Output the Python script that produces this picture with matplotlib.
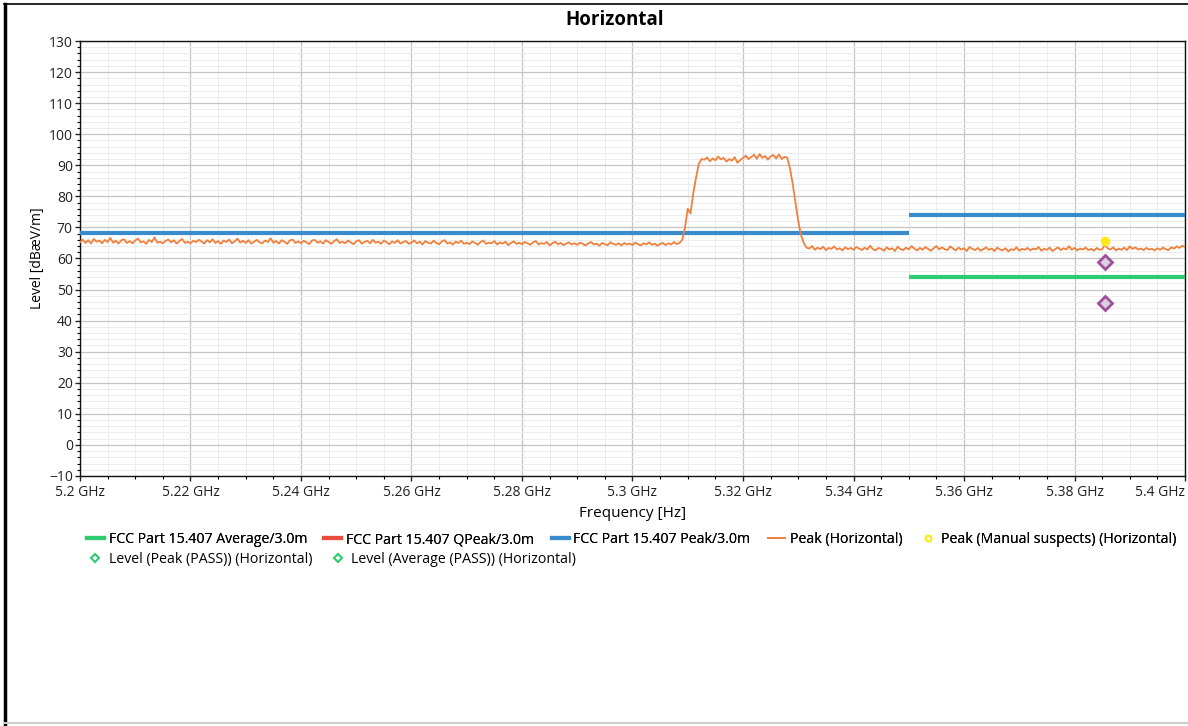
import matplotlib.pyplot as plt
import matplotlib.ticker as mticker
from matplotlib.lines import Line2D
import numpy as np

plt.rcParams['font.family'] = ['Open Sans', 'DejaVu Sans']

# peak trace, one value every 0.5 MHz from 5.200 to 5.400 GHz
freq_start, freq_step = 5.200, 0.0005
peak_level = [
    # 5.2000 - 5.3085 GHz
    65.2, 66.1, 65.0, 65.9, 64.8, 66.3, 65.4, 65.8, 64.9, 66.0, 65.3, 66.6, 65.1, 65.7, 64.8, 65.9, 66.2, 65.0, 65.6, 64.9,
    65.8, 66.4, 65.2, 65.5, 64.7, 66.0, 65.3, 66.8, 65.1, 65.4, 64.9, 65.7, 66.1, 65.2, 65.9, 64.8, 65.6, 66.3, 65.0, 65.4,
    64.9, 65.7, 65.3, 66.0, 65.5, 64.8, 65.9, 65.2, 66.2, 65.0, 65.6, 64.7, 65.8, 65.3, 66.1, 64.9, 65.5, 66.4, 65.1, 65.7,
    65.0, 65.9, 64.8, 65.4, 66.0, 65.2, 64.9, 65.8, 65.3, 66.5, 65.1, 65.6, 64.8, 65.9, 65.4, 64.7, 65.8, 66.1, 65.0, 65.5,
    64.9, 65.7, 65.2, 64.6, 65.8, 66.0, 65.1, 65.5, 64.8, 65.9, 65.3, 64.7, 65.6, 66.2, 65.0, 65.4, 64.9, 65.8, 65.2, 64.6,
    65.5, 65.9, 64.8, 65.3, 65.7, 64.9, 66.0, 65.1, 65.4, 64.7, 65.8, 65.2, 64.6, 65.5, 65.0, 65.9, 64.8, 65.3, 65.6, 64.7,
    65.2, 65.8, 64.9, 65.4, 64.5, 65.6, 65.1, 64.8, 65.7, 65.0, 64.6, 65.5, 65.9, 64.8, 65.2, 64.5, 65.4, 65.0, 65.7, 64.7,
    65.1, 64.6, 65.5, 65.0, 64.4, 65.3, 65.8, 64.7, 65.1, 64.9, 65.6, 64.5, 65.2, 64.8, 65.4, 64.3, 65.0, 65.5, 64.7, 65.1,
    64.6, 65.3, 64.9, 64.4, 65.2, 65.6, 64.5, 65.0, 64.7, 65.3, 64.2, 64.9, 65.4, 64.6, 65.0, 64.3, 64.8, 65.2, 64.5, 64.9,
    64.4, 65.1, 64.7, 64.2, 64.9, 65.3, 64.5, 64.8, 64.1, 65.0, 64.6, 64.3, 65.2, 64.7, 64.4, 64.9, 64.2, 65.0, 64.5, 64.8,
    64.3, 65.1, 64.6, 64.2, 64.9, 64.5, 65.2, 64.4, 64.8, 64.1, 64.7, 65.0, 64.3, 64.9, 64.5, 65.3, 64.6, 65.0,
    # rising edge 5.3090 - 5.3125 GHz
    66.0, 70.0, 76.0, 74.5, 81.0, 86.0, 90.5, 92.0,
    # top of the channel 5.3130 - 5.3275 GHz
    91.8, 92.5, 91.3, 92.2, 91.6, 92.8, 91.9, 92.4, 91.2, 92.0, 91.5, 92.6, 90.8, 91.7, 92.3, 93.1, 92.0, 92.7, 93.4, 92.1,
    93.6, 92.4, 93.0, 91.8, 92.9, 93.3, 92.2, 93.5, 92.0, 92.7,
    # falling edge 5.3280 - 5.3315 GHz
    92.5, 89.0, 84.0, 78.0, 72.0, 67.5, 65.0, 63.5,
    # 5.3320 - 5.4000 GHz
    63.2, 64.0, 62.8, 63.5, 63.0, 63.8, 62.7, 63.4, 63.1, 63.9, 62.9, 63.3, 62.6, 63.6, 63.0, 63.4, 62.8, 63.7, 63.2, 62.7,
    63.5, 62.9, 64.1, 63.0, 62.6, 63.4, 63.1, 62.5, 63.6, 62.9, 63.3, 62.4, 63.8, 63.0, 62.7, 63.5, 62.9, 64.0, 63.2, 62.6,
    63.4, 62.8, 63.7, 63.1, 62.5, 63.3, 64.0, 62.9, 63.6, 63.0, 62.7, 63.9, 63.2, 62.6, 63.5, 62.9, 63.3, 62.4, 63.7, 63.1,
    62.7, 63.4, 62.5, 63.0, 63.6, 62.8, 63.2, 62.4, 63.5, 62.9, 62.6, 63.3, 62.3, 63.0, 62.7, 63.6, 62.5, 63.1, 62.8, 63.4,
    62.6, 63.2, 62.9, 63.7, 62.5, 63.1, 62.8, 63.5, 62.4, 63.0, 63.6, 62.7, 63.3, 62.9, 64.0, 62.8, 63.4, 62.6, 63.2, 62.9,
    63.5, 62.7, 63.1, 62.5, 63.4, 62.8, 63.0, 64.3, 63.3, 62.9, 63.6, 62.6, 63.2, 62.8, 63.5, 62.7, 63.9, 63.1, 63.6, 62.9,
    63.2, 62.7, 63.4, 62.9, 63.1, 62.6, 63.3, 62.8, 63.5, 63.0, 62.7, 63.6, 63.2, 63.9, 63.4, 64.1, 63.7,
]

# limit lines (GHz, dBuV/m)
peak_limit_f = [[5.20, 5.35], [5.35, 5.40]]
peak_limit_v = [68.2, 74.0]
avg_limit_f = [5.35, 5.40]
avg_limit_v = 54.0

# suspects / final measurements
suspect_f, suspect_v = 5.3855, 65.6
final_peak_f, final_peak_v = 5.3855, 58.8
final_avg_f, final_avg_v = 5.3855, 45.6

x_ticks = [5.20, 5.22, 5.24, 5.26, 5.28, 5.30, 5.32, 5.34, 5.36, 5.38, 5.40]
x_tick_labels = ['5.2 GHz', '5.22 GHz', '5.24 GHz', '5.26 GHz', '5.28 GHz', '5.3 GHz',
                 '5.32 GHz', '5.34 GHz', '5.36 GHz', '5.38 GHz', '5.4 GHz']

c_orange = '#f0803c'
c_blue = '#3a8bcb'
c_green = '#2ecc71'
c_red = '#e74c3c'
c_yellow = '#ffe81a'
c_purple = '#a04f9c'

fig = plt.figure(figsize=(11.88, 7.26), dpi=100)
ax = fig.add_axes([0.0673, 0.3444, 0.9302, 0.5991])

freq = freq_start + freq_step * np.arange(len(peak_level))

for fs, v in zip(peak_limit_f, peak_limit_v):
    ax.plot(fs, [v, v], color=c_blue, lw=3, solid_capstyle='butt', zorder=3)
ax.plot(avg_limit_f, [avg_limit_v, avg_limit_v], color=c_green, lw=3, solid_capstyle='butt', zorder=3)
ax.plot(freq, peak_level, color=c_orange, lw=1.3, zorder=4)
ax.plot([suspect_f], [suspect_v], 'o', color=c_yellow, ms=6, zorder=5)
ax.plot([final_peak_f, final_avg_f], [final_peak_v, final_avg_v], 'D', ms=7,
        mfc='#d9d2dd', mec=c_purple, mew=2, zorder=5)

ax.set_xlim(5.2, 5.4)
ax.set_ylim(-10, 130)
ax.set_xticks(x_ticks)
ax.set_xticklabels(x_tick_labels)
ax.xaxis.get_major_ticks()[-1].label1.set_horizontalalignment('right')
ax.xaxis.set_minor_locator(mticker.MultipleLocator(0.005))
ax.yaxis.set_major_locator(mticker.MultipleLocator(10))
ax.yaxis.set_minor_locator(mticker.MultipleLocator(2))
ax.grid(which='major', color='#c4c4c4', lw=0.9)
ax.grid(which='minor', color='#ececec', lw=0.7)
ax.set_axisbelow(True)
ax.tick_params(which='major', length=3.6, width=1, pad=1.5, labelsize=10, colors='#222222')
ax.tick_params(axis='x', which='major', pad=3)
ax.tick_params(which='minor', length=2, width=0.8)
for sp in ax.spines.values():
    sp.set_color('#111111')
    sp.set_linewidth(1)

fig.text(0.5177, 0.972, 'Horizontal', fontsize=13.5, fontweight='bold', ha='center', va='center')
ax.set_xlabel('Frequency [Hz]', fontsize=11, labelpad=4)
ax.set_ylabel('Level [dBæV/m]', fontsize=10, labelpad=3)

legend_kw = dict(frameon=False, fontsize=10.2, handlelength=1.2, handletextpad=0.35,
                 columnspacing=1.2, borderpad=0, borderaxespad=0)

row1_handles = [
    Line2D([], [], color=c_green, lw=3),
    Line2D([], [], color=c_red, lw=3),
    Line2D([], [], color=c_blue, lw=3),
    Line2D([], [], color=c_orange, lw=1.3),
    Line2D([], [], ls='none', marker='o', ms=4, mfc='white', mec=c_yellow, mew=1.5),
]
row1_labels = [
    'FCC Part 15.407 Average/3.0m',
    'FCC Part 15.407 QPeak/3.0m',
    'FCC Part 15.407 Peak/3.0m',
    'Peak (Horizontal)',
    'Peak (Manual suspects) (Horizontal)',
]
row2_handles = [
    Line2D([], [], ls='none', marker='D', ms=4, mfc='white', mec=c_green, mew=1.5),
    Line2D([], [], ls='none', marker='D', ms=4, mfc='white', mec=c_green, mew=1.5),
]
row2_labels = [
    'Level (Peak (PASS)) (Horizontal)',
    'Level (Average (PASS)) (Horizontal)',
]
leg1 = fig.legend(row1_handles, row1_labels, ncol=5, loc='center left',
                  bbox_to_anchor=(0.0732, 0.2563), **legend_kw)
fig.legend(row2_handles, row2_labels, ncol=2, loc='center left',
           bbox_to_anchor=(0.0732, 0.2300), **legend_kw)
fig.add_artist(leg1)

# outer frame of the exported report
fig.add_artist(Line2D([0.0045, 0.0045], [0, 0.995], color='black', lw=2.5, transform=fig.transFigure))
fig.add_artist(Line2D([0.003, 1], [0.994, 0.994], color='black', lw=1.2, transform=fig.transFigure))
fig.add_artist(Line2D([0.003, 1], [0.004, 0.004], color='#cccccc', lw=1.5, transform=fig.transFigure))

fig.savefig('out.png', dpi=100)
